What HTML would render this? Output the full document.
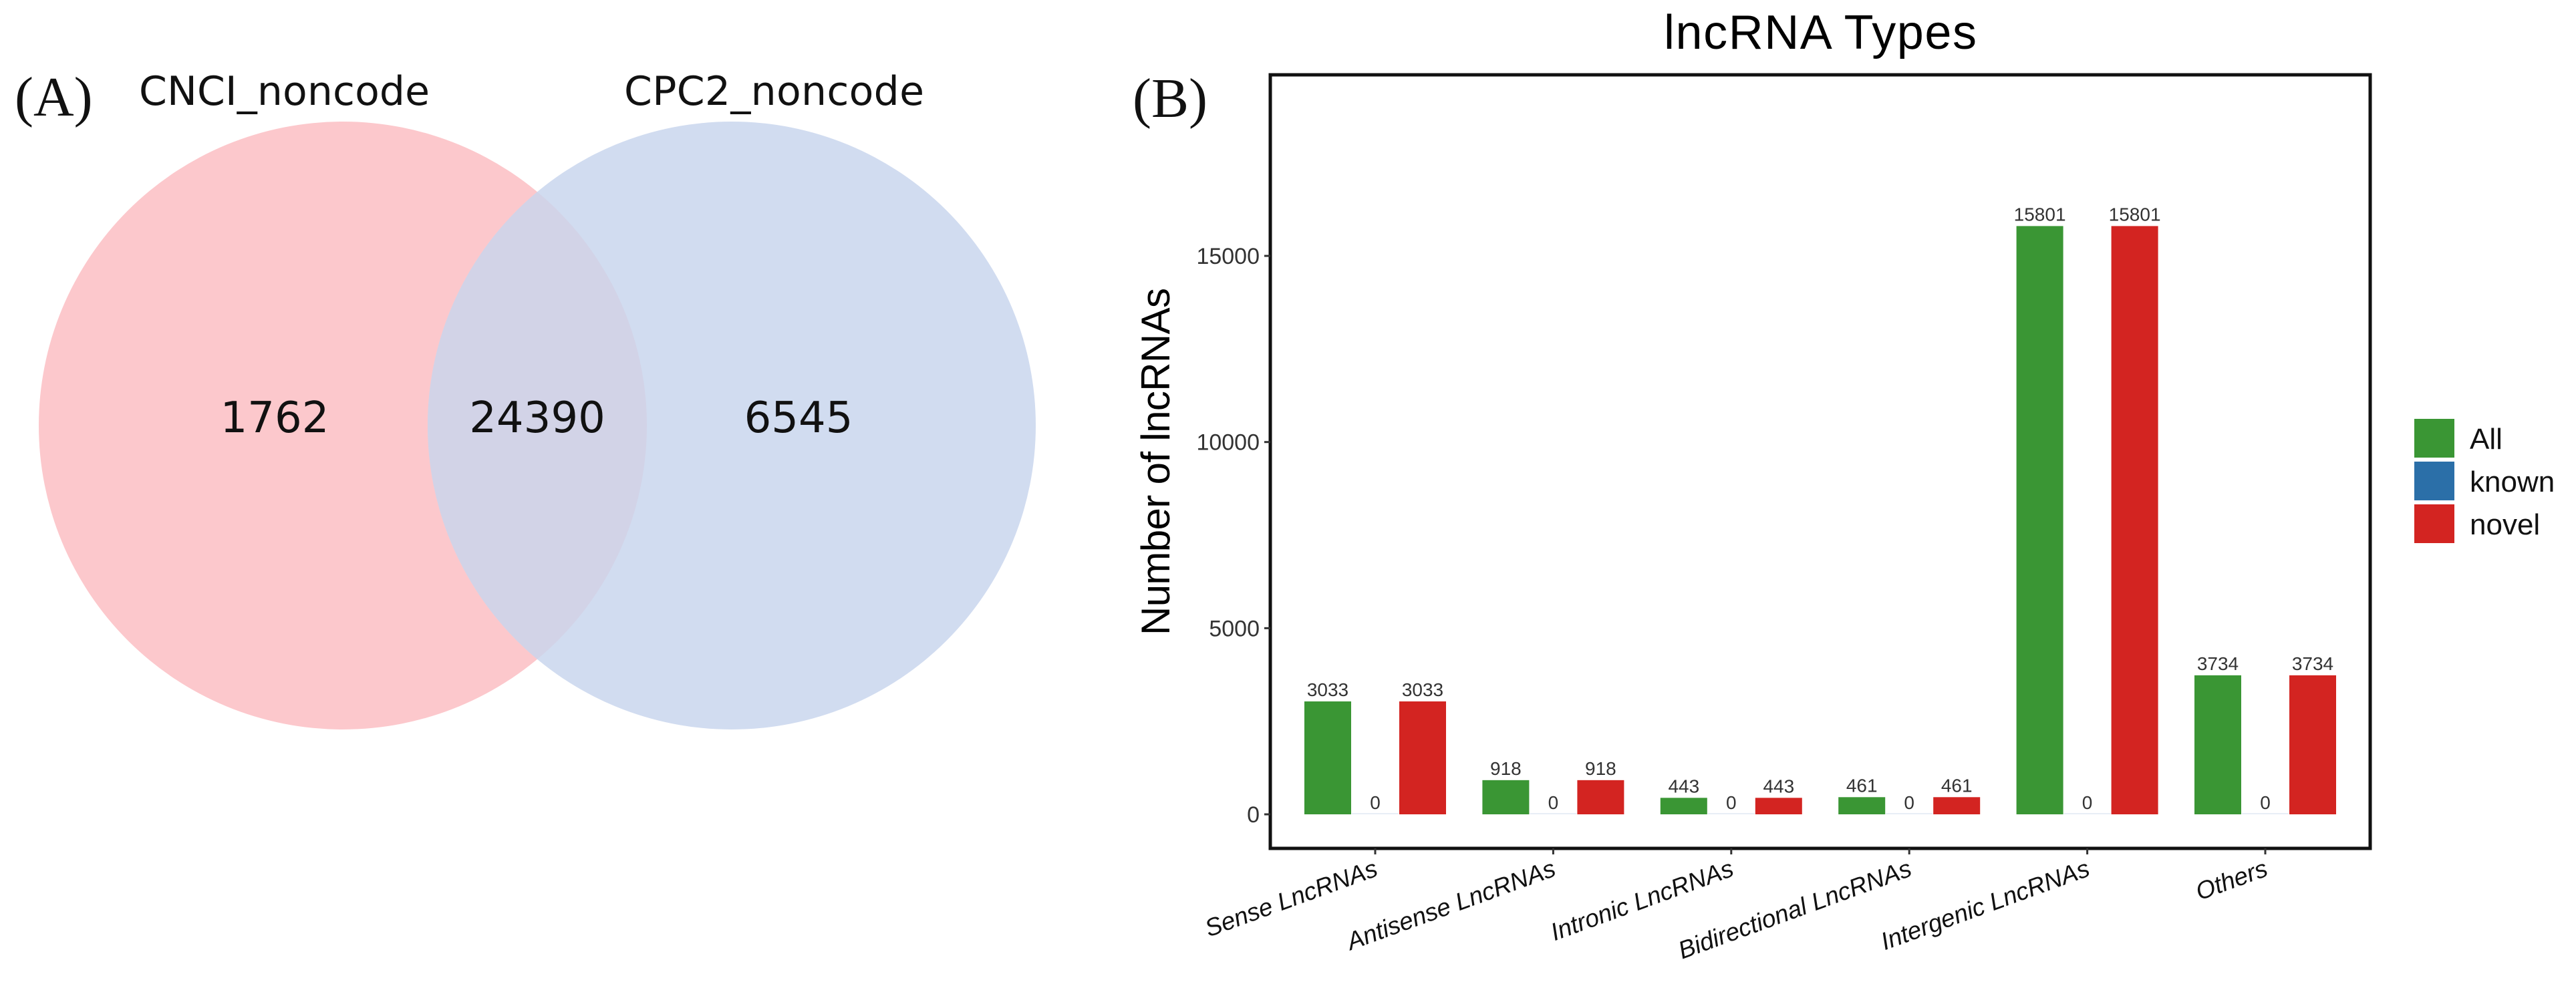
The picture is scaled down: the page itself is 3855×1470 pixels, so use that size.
<!DOCTYPE html>
<html><head><meta charset="utf-8"><style>
html,body{margin:0;padding:0;background:#fff;}
svg{display:block;}
</style></head><body>
<svg id="fig" width="3855" height="1470" viewBox="0 0 3855 1470" xmlns="http://www.w3.org/2000/svg">
<rect x="0" y="0" width="3855" height="1470" fill="#fff"/>
<g>
  <defs><clipPath id="clipL"><circle cx="513" cy="637" r="455"/></clipPath></defs>
  <text x="22" y="173" font-family="Liberation Serif, serif" font-size="84" fill="#111">(A)</text>
  <circle cx="513" cy="637" r="455" fill="#fcc8cc"/>
  <circle cx="1095" cy="637" r="455" fill="#d1dcf0"/>
  <circle cx="1095" cy="637" r="455" fill="#d2d3e7" clip-path="url(#clipL)"/>
  <text x="208" y="157" font-family="DejaVu Sans, sans-serif" font-size="60" fill="#111" textLength="435">CNCI_noncode</text>
  <text x="934" y="157" font-family="DejaVu Sans, sans-serif" font-size="60" fill="#111" textLength="449">CPC2_noncode</text>
  <text x="411" y="647" text-anchor="middle" font-family="DejaVu Sans, sans-serif" font-size="64" fill="#111">1762</text>
  <text x="804" y="647" text-anchor="middle" font-family="DejaVu Sans, sans-serif" font-size="64" fill="#111">24390</text>
  <text x="1195" y="647" text-anchor="middle" font-family="DejaVu Sans, sans-serif" font-size="64" fill="#111">6545</text>
</g>
<g id="chart">
  <text x="1695" y="175" font-family="Liberation Serif, serif" font-size="84" fill="#111">(B)</text>
  <text x="2724" y="73" text-anchor="middle" font-family="Liberation Sans, sans-serif" font-size="72" fill="#000" textLength="468">lncRNA Types</text>
  <text transform="translate(1750,691) rotate(-90)" text-anchor="middle" font-family="Liberation Sans, sans-serif" font-size="60" fill="#000" textLength="520">Number of lncRNAs</text>
</g>
</svg>
<script>
const categories = ["Sense LncRNAs","Antisense LncRNAs","Intronic LncRNAs","Bidirectional LncRNAs","Intergenic LncRNAs","Others"];
const allValues = [3033, 918, 443, 461, 15801, 3734];
const knownValues = [0, 0, 0, 0, 0, 0];
const novelValues = [3033, 918, 443, 461, 15801, 3734];
const yTicks = [0, 5000, 10000, 15000];
const seriesNames = ["All","known","novel"];

const NS = "http://www.w3.org/2000/svg";
const g = document.getElementById("chart");
const PL = 1901, PR = 3547, PT = 112, PB = 1270;
const Y0 = 1219, PXU = 0.05573;
function yScale(v){ return Y0 - v * PXU; }
function xCat(i){ return 2058 + i * 266.4; }
const colors = ["#3a9634", "#2b6fa8", "#d32421"];
const offsets = [-71, 0, 71];
const BW = 70;
function mk(tag, attrs, parent){
  const e = document.createElementNS(NS, tag);
  for (const k in attrs) e.setAttribute(k, attrs[k]);
  (parent || g).appendChild(e);
  return e;
}
const series = [allValues, knownValues, novelValues];
series.forEach((vals, s) => {
  vals.forEach((v, i) => {
    const cx = xCat(i) + offsets[s];
    const top = yScale(v);
    const h = Math.max(Y0 - top, 2);
    const r = mk("rect", {x: cx - BW/2, y: Math.min(top, Y0 - 2), width: BW, height: h, fill: v === 0 ? "#e8eef6" : colors[s]});
    
    
    const t = mk("text", {x: cx, y: top - 8, "text-anchor": "middle", "font-family": "Liberation Sans Narrow, Liberation Sans, sans-serif", "font-size": "28", fill: "#333"});
    t.textContent = String(v);
    
    
  });
});
const fr = mk("rect", {x: PL, y: PT, width: PR - PL, height: PB - PT, fill: "none", stroke: "#111", "stroke-width": "5"});


yTicks.forEach(v => {
  const y = yScale(v);
  const l = mk("line", {x1: PL - 9, x2: PL, y1: y, y2: y, stroke: "#333", "stroke-width": "3"});
  
  
  const t = mk("text", {x: PL - 16, y: y + 12, "text-anchor": "end", "font-family": "Liberation Sans, sans-serif", "font-size": "34", fill: "#333"});
  t.textContent = String(v);
  
  
});
categories.forEach((c, i) => {
  const x = xCat(i);
  const l = mk("line", {x1: x, x2: x, y1: PB, y2: PB + 9, stroke: "#333", "stroke-width": "3"});
  
  
  const t = mk("text", {transform: "translate(" + (x + 6) + "," + (PB + 40) + ") rotate(-20)", "text-anchor": "end", "font-family": "Liberation Sans, sans-serif", "font-size": "37", "font-style": "italic", fill: "#111"});
  t.textContent = c;
  
  
});
seriesNames.forEach((n, s) => {
  const y = 627 + s * 64;
  const r = mk("rect", {x: 3613, y: y, width: 60, height: 58, fill: colors[s]});
  
  
  const t = mk("text", {x: 3696, y: y + 45, "font-family": "Liberation Sans, sans-serif", "font-size": "44", fill: "#111"});
  t.textContent = n;
  
  
});
</script>
</body></html>
